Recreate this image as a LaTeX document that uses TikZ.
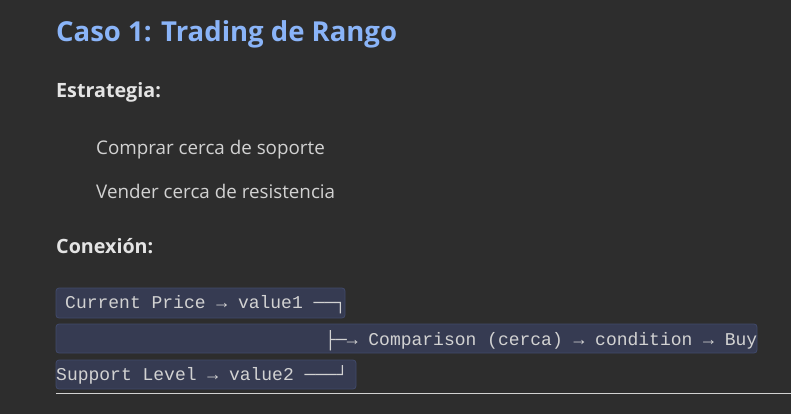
\documentclass[tikz,border=0pt]{standalone}
\usepackage{fontspec}
\setmainfont{Open Sans}
\setmonofont{Liberation Mono}
\definecolor{pagebg}{HTML}{2D2D2D}
\definecolor{titleblue}{HTML}{8AB4F8}
\definecolor{headgray}{HTML}{E4E4E4}
\definecolor{bodygray}{HTML}{D2D2D2}
\definecolor{codefill}{HTML}{363B52}
\definecolor{codeline}{HTML}{414A6B}
\begin{document}
\begin{tikzpicture}
[x=1pt,y=-1pt,
 every node/.style={anchor=base west,inner sep=0pt},
 title/.style={font=\bfseries\fontsize{27.5}{32}\selectfont,text=titleblue},
 heading/.style={font=\bfseries\fontsize{19.7}{22}\selectfont,text=headgray},
 item/.style={font=\fontsize{18.8}{22}\selectfont,text=bodygray},
 codebox/.style={fill=codefill,draw=codeline,line width=0.8pt,rounded corners=3pt},
 code/.style={font=\ttfamily\fontsize{18}{22}\selectfont,text=bodygray}]
\useasboundingbox[fill=pagebg] (0,0) rectangle (791,414);
% texto
\node[title] (caso) at (56,42) {Caso 1: Trading de Rango};
\node[heading] (estrategia) at (56,98) {Estrategia:};
\node[item] (comprar) at (96,154) {Comprar cerca de soporte};
\node[item] (vender) at (96,198) {Vender cerca de resistencia};
\node[heading] (conexion) at (56,253) {Conexión:};
% bloques de codigo
\draw[codebox] (56,288) rectangle (345,318);
\draw[codebox] (56,324) rectangle (757,353);
\draw[codebox] (56,360) rectangle (356,389);
\node[code] (price) at (65,308) {Current Price → value1 ──┐};
\node[code] (compare) at (325,345) {├─→ Comparison (cerca) → condition → Buy};
\node[code] (support) at (56,380) {Support Level → value2 ───┘};
\draw[bodygray,line width=0.8pt] (56,393) -- (791,393);
\end{tikzpicture}
\end{document}
